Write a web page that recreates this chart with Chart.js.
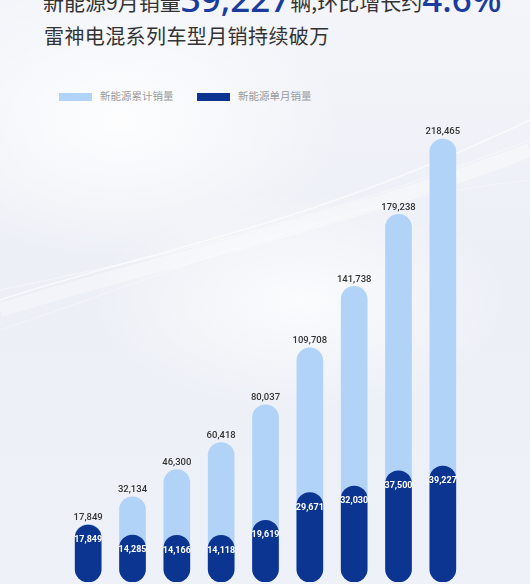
<!DOCTYPE html>
<html>
<head>
<meta charset="utf-8">
<script src="https://cdn.jsdelivr.net/npm/chart.js@4.4.0/dist/chart.umd.min.js"></script>
<style>
    html, body {
        margin: 0;
        padding: 0;
    }
    body {
        width: 530px;
        height: 584px;
        overflow: hidden;
        position: relative;
        font-family: "Noto Sans CJK SC", "Noto Sans", sans-serif;
        background:
            radial-gradient(ellipse 320px 200px at 120px 120px, rgba(255,255,255,0.9), rgba(255,255,255,0) 70%),
            radial-gradient(ellipse 300px 160px at 300px 300px, rgba(255,255,255,0.8), rgba(255,255,255,0) 70%),
            linear-gradient(180deg, #f3f5fa 0%, #eceff6 45%, #eef1f7 100%);
    }
    #swoosh {
        position: absolute;
        left: 0;
        top: 0;
    }
    .title1 {
        position: absolute;
        left: 43px;
        top: -19px;
        white-space: nowrap;
        font-size: 21px;
        color: #333;
        line-height: 32px;
    }
    .title1 .num {
        font-family: "Noto Sans", sans-serif;
        font-size: 35px;
        font-weight: 500;
        color: #1b3c9c;
        position: relative;
        top: 2px;
    }
    .title2 {
        position: absolute;
        left: 44px;
        top: 22px;
        font-size: 20px;
        letter-spacing: 0.4px;
        color: #333;
        line-height: 28px;
        white-space: nowrap;
    }
    .legend {
        position: absolute;
        top: 89px;
        font-size: 10.5px;
        color: #9a9a9a;
        line-height: 14px;
        white-space: nowrap;
    }
    .legend .box {
        display: inline-block;
        width: 33px;
        height: 8px;
        margin-right: 8px;
        vertical-align: -1px;
    }
    #chart {
        position: absolute;
        left: 0;
        top: 0;
    }
</style>
</head>
<body>
<svg id="swoosh" width="530" height="584">
    <path d="M0 310 C 160 260, 320 230, 530 150" stroke="rgba(255,255,255,0.35)" stroke-width="14" fill="none"/>
    <path d="M0 300 C 150 250, 300 230, 530 120" stroke="rgba(255,255,255,0.6)" stroke-width="1.5" fill="none"/>
    <path d="M0 290 C 170 255, 320 220, 530 140" stroke="rgba(255,255,255,0.45)" stroke-width="1" fill="none"/>
    <path d="M0 330 C 180 270, 340 200, 530 180" stroke="rgba(255,255,255,0.35)" stroke-width="1" fill="none"/>
</svg>
<div class="title1">新能源9月销量<span class="num">39,227</span>辆,环比增长约<span class="num">4.6%</span></div>
<div class="title2">雷神电混系列车型月销持续破万</div>
<div class="legend" style="left:59px"><span class="box" style="background:#b2d3f8"></span>新能源累计销量</div>
<div class="legend" style="left:197px"><span class="box" style="background:#0c3592"></span>新能源单月销量</div>
<canvas id="chart" width="530" height="584"></canvas>
<script>
const months = ['1月', '2月', '3月', '4月', '5月', '6月', '7月', '8月', '9月'];
const cumulativeSales = [17849, 32134, 46300, 60418, 80037, 109708, 141738, 179238, 218465];
const monthlySales = [17849, 14285, 14166, 14118, 19619, 29671, 32030, 37500, 39227];

const lightBlue = '#b2d3f8';
const darkBlue = '#0c3592';

// two hidden value axes; the bars run down to the bottom of the picture
const totalMin = -12200, totalMax = 228400;
const monthMin = -2750, monthMax = 164600;

const valueLabels = {
    id: 'valueLabels',
    afterDatasetsDraw(chart) {
        const c = chart.ctx;
        c.save();
        c.textAlign = 'center';
        c.textBaseline = 'middle';
        chart.data.datasets.forEach((ds, i) => {
            const meta = chart.getDatasetMeta(i);
            meta.data.forEach((bar, j) => {
                const text = ds.data[j].toLocaleString('en-US');
                if (ds.yAxisID === 'yTotal') {
                    c.font = '500 9.5px Roboto, "Liberation Sans", sans-serif';
                    c.fillStyle = '#333333';
                    c.fillText(text, bar.x, bar.y - 7);
                } else {
                    c.font = 'bold 9px Roboto, "Liberation Sans", sans-serif';
                    c.fillStyle = '#ffffff';
                    c.fillText(text, bar.x, bar.y + 15);
                }
            });
        });
        c.restore();
    }
};

new Chart(document.getElementById('chart'), {
    type: 'bar',
    data: {
        labels: months,
        datasets: [
            {
                label: '新能源累计销量',
                data: cumulativeSales,
                yAxisID: 'yTotal',
                base: totalMin,
                backgroundColor: lightBlue,
                barThickness: 26,
                borderRadius: 13,
                borderSkipped: false,
                grouped: false,
                order: 2
            },
            {
                label: '新能源单月销量',
                data: monthlySales,
                yAxisID: 'yMonth',
                base: monthMin,
                backgroundColor: darkBlue,
                barThickness: 26,
                borderRadius: 13,
                borderSkipped: false,
                grouped: false,
                order: 1
            }
        ]
    },
    options: {
        responsive: false,
        animation: false,
        layout: {
            padding: { top: 120, bottom: 2, left: 66, right: 65 }
        },
        plugins: {
            legend: { display: false },
            tooltip: { enabled: false }
        },
        scales: {
            x: { display: false, offset: true, grid: { display: false } },
            yTotal: { display: false, min: totalMin, max: totalMax },
            yMonth: { display: false, min: monthMin, max: monthMax }
        }
    },
    plugins: [valueLabels]
});
</script>
</body>
</html>
